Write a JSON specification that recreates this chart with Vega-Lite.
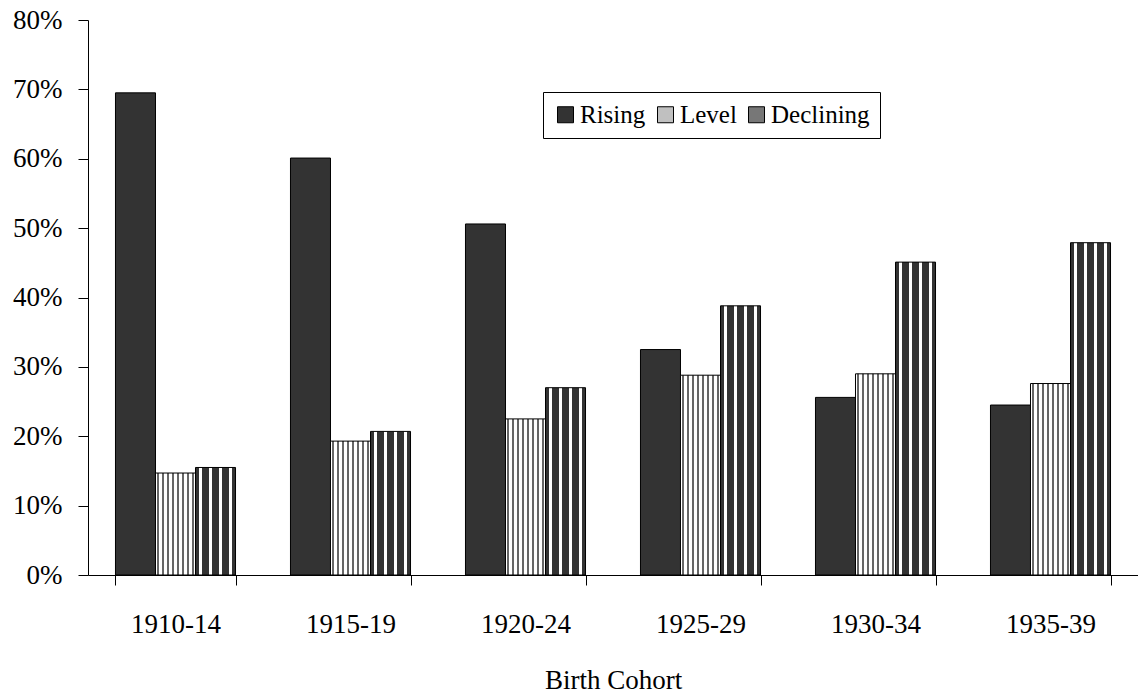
{
  "$schema": "https://vega.github.io/schema/vega-lite/v6.json",
  "width": 1050,
  "height": 555,
  "autosize": {"type": "none"},
  "padding": {"left": 88, "top": 20, "right": 0, "bottom": 121},
  "background": "white",
  "config": {
    "font": "Liberation Serif",
    "view": {"stroke": null},
    "axis": {"domainColor": "black", "tickColor": "black", "labelColor": "black", "titleColor": "black", "grid": false, "labelFont": "Liberation Serif", "titleFont": "Liberation Serif", "titleFontWeight": "normal"}
  },
  "data": {
    "values": [
      {"cohort": "1910-14", "trend": "Rising", "share": 0.695},
      {"cohort": "1910-14", "trend": "Level", "share": 0.147},
      {"cohort": "1910-14", "trend": "Declining", "share": 0.155},
      {"cohort": "1915-19", "trend": "Rising", "share": 0.601},
      {"cohort": "1915-19", "trend": "Level", "share": 0.193},
      {"cohort": "1915-19", "trend": "Declining", "share": 0.207},
      {"cohort": "1920-24", "trend": "Rising", "share": 0.506},
      {"cohort": "1920-24", "trend": "Level", "share": 0.225},
      {"cohort": "1920-24", "trend": "Declining", "share": 0.27},
      {"cohort": "1925-29", "trend": "Rising", "share": 0.325},
      {"cohort": "1925-29", "trend": "Level", "share": 0.288},
      {"cohort": "1925-29", "trend": "Declining", "share": 0.388},
      {"cohort": "1930-34", "trend": "Rising", "share": 0.256},
      {"cohort": "1930-34", "trend": "Level", "share": 0.29},
      {"cohort": "1930-34", "trend": "Declining", "share": 0.451},
      {"cohort": "1935-39", "trend": "Rising", "share": 0.245},
      {"cohort": "1935-39", "trend": "Level", "share": 0.276},
      {"cohort": "1935-39", "trend": "Declining", "share": 0.479}
    ]
  },
  "mark": {"type": "bar", "stroke": "black", "strokeWidth": 1},
  "encoding": {
    "x": {
      "field": "cohort",
      "type": "nominal",
      "scale": {"paddingInner": 0.314, "paddingOuter": 0.157},
      "axis": {"title": "Birth Cohort", "labelAngle": 0, "labelFontSize": 27, "titleFontSize": 27, "tickSize": 10, "labelPadding": 26, "titlePadding": 30, "tickBand": "extent"}
    },
    "xOffset": {"field": "trend", "type": "nominal", "sort": ["Rising", "Level", "Declining"], "scale": {"paddingInner": 0, "paddingOuter": 0}},
    "y": {
      "field": "share",
      "type": "quantitative",
      "scale": {"domain": [0, 0.8]},
      "axis": {"title": null, "format": ".0%", "values": [0, 0.1, 0.2, 0.3, 0.4, 0.5, 0.6, 0.7, 0.8], "labelFontSize": 27, "tickSize": 10, "labelPadding": 16}
    },
    "fill": {
      "field": "trend",
      "type": "nominal",
      "scale": {"domain": ["Rising", "Level", "Declining"], "range": ["#333333", "#c0c0c0", "#777777"]},
      "condition": [
        {"test": "datum.trend === 'Level'", "value": {"gradient": "linear", "x1": 0, "y1": 0, "x2": 1, "y2": 0, "stops": [
            {"offset": 0, "color": "#ffffff"}, {"offset": 0.0375, "color": "#ffffff"}, {"offset": 0.0375, "color": "#666666"}, {"offset": 0.0875, "color": "#666666"}, {"offset": 0.0875, "color": "#ffffff"},
            {"offset": 0.1625, "color": "#ffffff"}, {"offset": 0.1625, "color": "#666666"}, {"offset": 0.2125, "color": "#666666"}, {"offset": 0.2125, "color": "#ffffff"},
            {"offset": 0.2875, "color": "#ffffff"}, {"offset": 0.2875, "color": "#666666"}, {"offset": 0.3375, "color": "#666666"}, {"offset": 0.3375, "color": "#ffffff"},
            {"offset": 0.4125, "color": "#ffffff"}, {"offset": 0.4125, "color": "#666666"}, {"offset": 0.4625, "color": "#666666"}, {"offset": 0.4625, "color": "#ffffff"},
            {"offset": 0.5375, "color": "#ffffff"}, {"offset": 0.5375, "color": "#666666"}, {"offset": 0.5875, "color": "#666666"}, {"offset": 0.5875, "color": "#ffffff"},
            {"offset": 0.6625, "color": "#ffffff"}, {"offset": 0.6625, "color": "#666666"}, {"offset": 0.7125, "color": "#666666"}, {"offset": 0.7125, "color": "#ffffff"},
            {"offset": 0.7875, "color": "#ffffff"}, {"offset": 0.7875, "color": "#666666"}, {"offset": 0.8375, "color": "#666666"}, {"offset": 0.8375, "color": "#ffffff"},
            {"offset": 0.9125, "color": "#ffffff"}, {"offset": 0.9125, "color": "#666666"}, {"offset": 0.9625, "color": "#666666"}, {"offset": 0.9625, "color": "#ffffff"},
            {"offset": 1, "color": "#ffffff"}
          ]}},
        {"test": "datum.trend === 'Declining'", "value": {"gradient": "linear", "x1": 0, "y1": 0, "x2": 1, "y2": 0, "stops": [
            {"offset": 0, "color": "#333333"}, {"offset": 0.08, "color": "#333333"}, {"offset": 0.08, "color": "#ffffff"}, {"offset": 0.17, "color": "#ffffff"}, {"offset": 0.17, "color": "#333333"},
            {"offset": 0.33, "color": "#333333"}, {"offset": 0.33, "color": "#ffffff"}, {"offset": 0.42, "color": "#ffffff"}, {"offset": 0.42, "color": "#333333"},
            {"offset": 0.58, "color": "#333333"}, {"offset": 0.58, "color": "#ffffff"}, {"offset": 0.67, "color": "#ffffff"}, {"offset": 0.67, "color": "#333333"},
            {"offset": 0.83, "color": "#333333"}, {"offset": 0.83, "color": "#ffffff"}, {"offset": 0.92, "color": "#ffffff"}, {"offset": 0.92, "color": "#333333"},
            {"offset": 1, "color": "#333333"}
          ]}}
      ],
      "legend": {
        "title": null,
        "orient": "none",
        "legendX": 455,
        "legendY": 72,
        "direction": "horizontal",
        "fillColor": "white",
        "strokeColor": "black",
        "padding": 10,
        "symbolType": "square",
        "symbolSize": 256,
        "symbolStrokeColor": "black",
        "symbolStrokeWidth": 1,
        "symbolOpacity": 1,
        "labelFont": "Liberation Serif",
        "labelFontSize": 25,
        "labelColor": "black",
        "labelOffset": 2,
        "columnPadding": 7
      }
    }
  }
}
